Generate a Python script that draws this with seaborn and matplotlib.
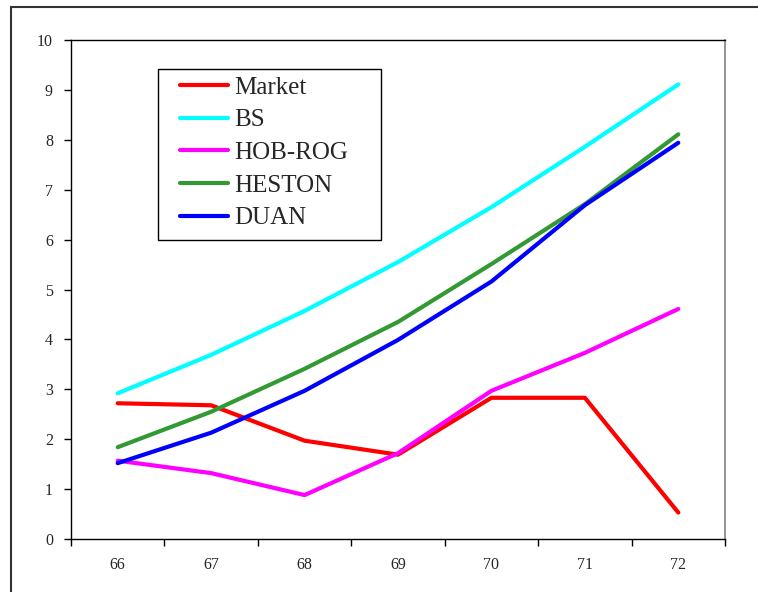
import pandas as pd
import seaborn as sns
import matplotlib.pyplot as plt
from matplotlib.patches import Rectangle
from matplotlib.ticker import FixedLocator

# Values
strikes = ["66", "67", "68", "69", "70", "71", "72"]
market = [2.72, 2.68, 1.97, 1.69, 2.83, 2.83, 0.53]
bs = [2.92, 3.69, 4.57, 5.55, 6.65, 7.86, 9.11]
hob_rog = [1.57, 1.32, 0.88, 1.72, 2.97, 3.73, 4.61]
heston = [1.84, 2.55, 3.41, 4.35, 5.51, 6.71, 8.11]
duan = [1.52, 2.13, 2.97, 3.99, 5.16, 6.69, 7.94]

series_names = ["Market", "BS", "HOB-ROG", "HESTON", "DUAN"]
colors = ["#FF0000", "#00FFFF", "#FF00FF", "#339933", "#0000FF"]

df = pd.DataFrame({
    "strike": strikes * 5,
    "value": market + bs + hob_rog + heston + duan,
    "model": [n for n in series_names for _ in strikes],
})

sns.set_style("white")
plt.rcParams["font.family"] = ["Liberation Serif", "DejaVu Serif"]

W, H = 758, 592
fig = plt.figure(figsize=(W / 100, H / 100), dpi=100)
ax = fig.add_axes([71 / W, 1 - 539 / H, 654 / W, 499 / H])

sns.lineplot(data=df, x="strike", y="value", hue="model", palette=colors,
             hue_order=series_names, sort=False, linewidth=3, ax=ax,
             legend=False)
for ln in ax.get_lines():
    ln.set_solid_capstyle("round")

ax.set_xlim(-0.5, 6.5)
ax.set_ylim(0, 10)
ax.set_xlabel("")
ax.set_ylabel("")

# major ticks sit between categories, labels at category centres
ax.xaxis.set_major_locator(FixedLocator([i - 0.5 for i in range(8)]))
ax.xaxis.set_minor_locator(FixedLocator(list(range(7))))
ax.set_xticklabels([""] * 8)
ax.set_xticklabels(strikes, minor=True)
ax.tick_params(axis="x", which="major", direction="out", length=5, width=1,
               color="black", bottom=True)
ax.tick_params(axis="x", which="minor", length=0, pad=13, labelsize=11.5)
ax.set_yticks(range(11))
ax.tick_params(axis="y", direction="out", length=5, width=1, color="black",
               left=True, labelsize=11.5, pad=8)

for side in ["left", "bottom", "top"]:
    ax.spines[side].set_color("black")
    ax.spines[side].set_linewidth(1)
ax.spines["right"].set_color("#808080")
ax.spines["right"].set_linewidth(1.2)

# legend entries, with the box drawn separately to get the wide inner margin
handles = [plt.Line2D([], [], color=c, lw=3) for c in colors]
leg = ax.legend(handles, series_names, loc="upper left",
                bbox_to_anchor=((180 - 71) / 654, (539 - 76) / 499),
                frameon=False, fontsize=18, handlelength=1.9,
                handletextpad=0.25, labelspacing=0.41, borderpad=0,
                borderaxespad=0)
for t in leg.get_texts():
    t.set_fontsize(18)
fig.patches.append(Rectangle((158 / W, 1 - 240 / H), 223 / W, 171 / H,
                             transform=fig.transFigure, fill=False,
                             edgecolor="black", linewidth=1, zorder=5))

# outer chart-area frame, running off the right and bottom of the image
fig.patches.append(Rectangle((11 / W, -0.2), 2, 1.2 - 7 / H,
                             transform=fig.transFigure, fill=False,
                             edgecolor="#333333", linewidth=1.5))

fig.savefig("out.png", dpi=100)
